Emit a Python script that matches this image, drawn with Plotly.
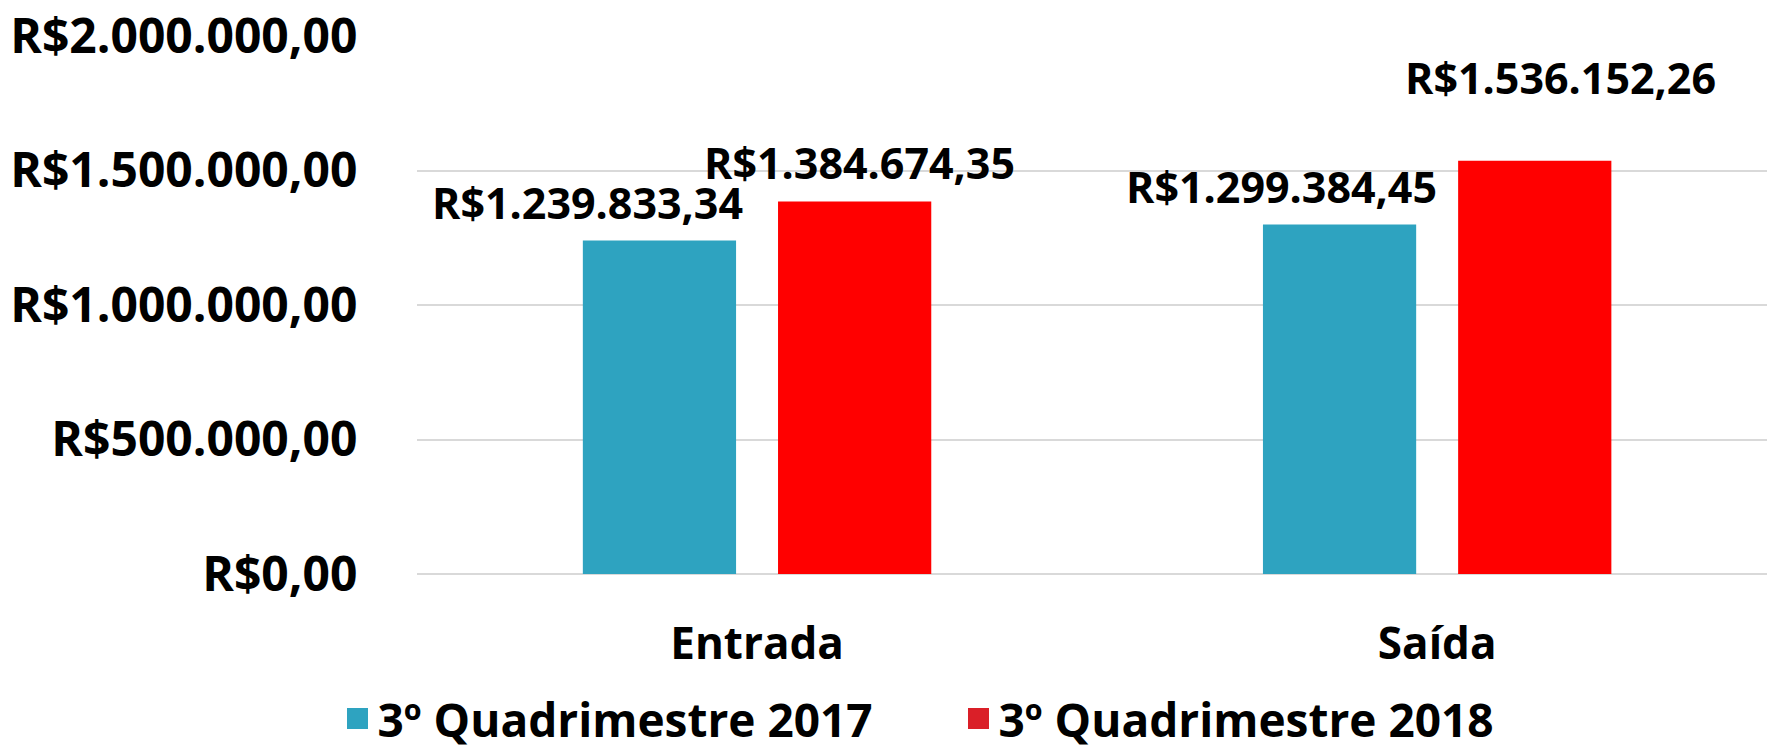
import plotly.graph_objects as go

categories = ["Entrada", "Saída"]
series_names = ["3º Quadrimestre 2017", "3º Quadrimestre 2018"]
values_2017 = [1239833.34, 1299384.45]
values_2018 = [1384674.35, 1536152.26]
tick_values = [0, 500000, 1000000, 1500000, 2000000]

bar_colors = ["#2EA3C0", "#FF0000"]
legend_colors = ["#2EA3C0", "#DA1F28"]
FONT = "Open Sans"


def brl(v):
    s = f"{v:,.2f}"
    s = s.replace(",", "X").replace(".", ",").replace("X", ".")
    return "R$" + s


bargap = 0.426
bargroupgap = 0.215
slot = (1 - bargap) / 2

fig = go.Figure()
series = [values_2017, values_2018]
for k, (name, vals) in enumerate(zip(series_names, series)):
    fig.add_trace(go.Bar(
        x=categories, y=vals, name=name,
        marker=dict(color=bar_colors[k], line=dict(width=0)),
        showlegend=False,
    ))
    # legend entry
    fig.add_trace(go.Scatter(
        x=[None], y=[None], mode="markers", name=name,
        marker=dict(symbol="square", size=16, color=legend_colors[k],
                    line=dict(color=legend_colors[k], width=5)),
        showlegend=True,
    ))

# data label offsets (style, px)
label_xshift = [[-72, -58], [5, 26]]
label_yshift = [[6, 6], [8, 52]]
annotations = []
for k, vals in enumerate(series):
    for i, v in enumerate(vals):
        annotations.append(dict(
            x=i + (k - 0.5) * slot, y=v, xref="x", yref="y",
            text=brl(v), showarrow=False,
            xanchor="center", yanchor="bottom",
            xshift=label_xshift[k][i], yshift=label_yshift[k][i],
            font=dict(family=FONT, size=43, color="#000000", weight="bold"),
        ))

fig.update_layout(
    width=1767, height=751,
    margin=dict(l=417, r=0, t=36, b=177, autoexpand=False),
    paper_bgcolor="white", plot_bgcolor="white",
    barmode="group", bargap=bargap, bargroupgap=bargroupgap,
    annotations=annotations,
    showlegend=True,
    legend=dict(
        orientation="h", xref="container", yref="container",
        x=0.191, y=0.043, xanchor="left", yanchor="middle",
        font=dict(family=FONT, size=46, color="#000000", weight="bold"),
        entrywidth=576, traceorder="normal", itemsizing="trace",
    ),
    xaxis=dict(
        type="category", range=[-0.5, 1.485],
        showgrid=False, showline=False, zeroline=False,
        ticks="outside", ticklen=31, tickcolor="rgba(0,0,0,0)",
        tickfont=dict(family=FONT, size=44, color="#000000", weight="bold"),
        fixedrange=True, automargin=False,
    ),
    yaxis=dict(
        range=[0, 2000000], tickvals=tick_values,
        ticktext=[brl(v) for v in tick_values],
        showgrid=True, gridcolor="#D9D9D9", gridwidth=2,
        zeroline=True, zerolinecolor="#D9D9D9", zerolinewidth=2,
        showline=False,
        ticks="outside", ticklen=49, tickcolor="rgba(0,0,0,0)",
        tickfont=dict(family=FONT, size=48, color="#000000", weight="bold"),
        fixedrange=True, automargin=False,
    ),
)

fig.write_html(
    "out.html",
    config={"displayModeBar": False, "staticPlot": True},
    post_script="document.body.style.margin='0px';document.body.style.overflow='hidden';",
)
